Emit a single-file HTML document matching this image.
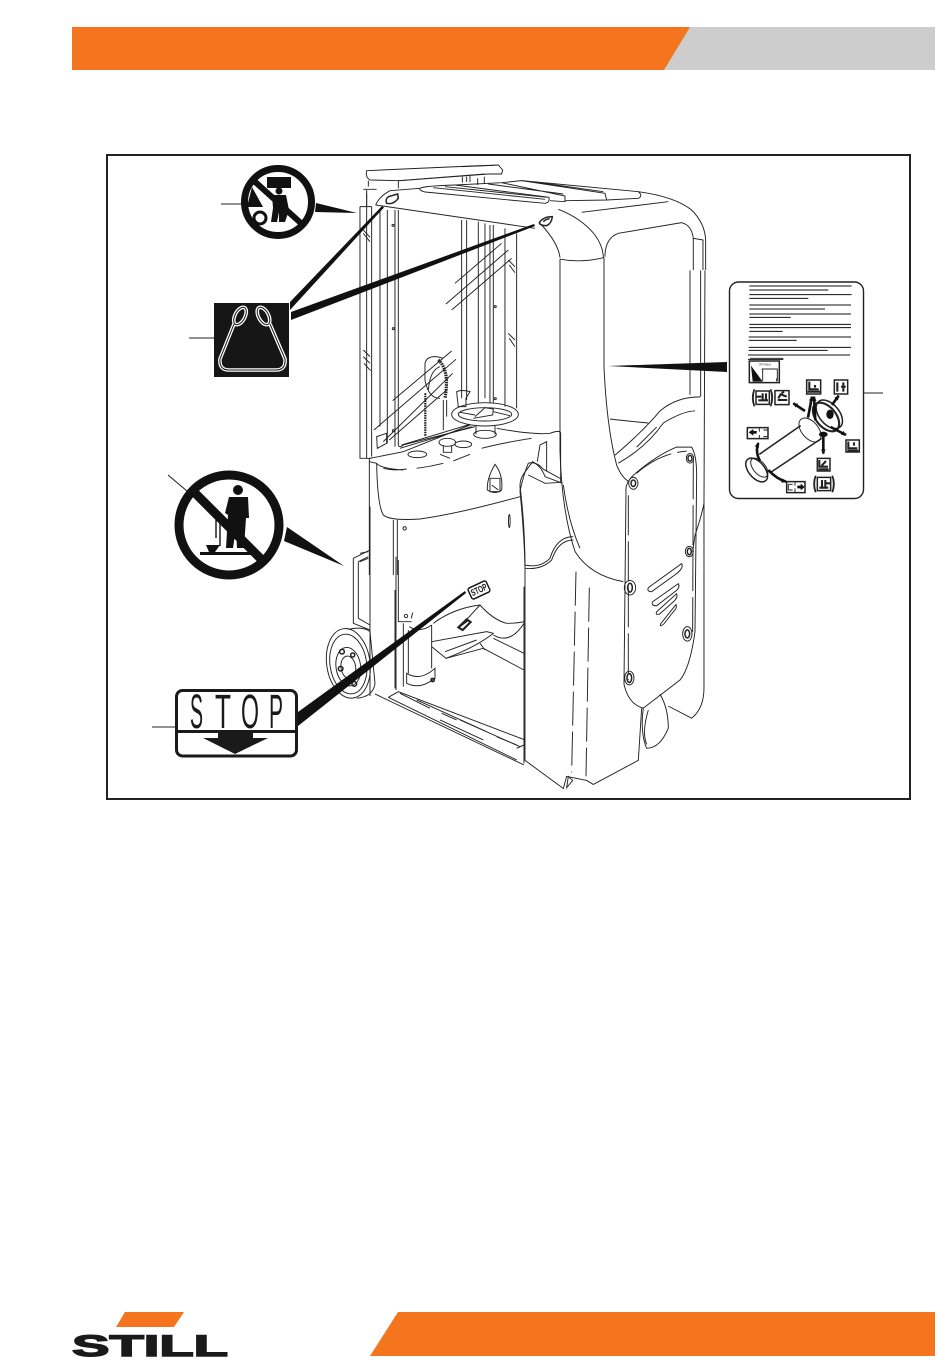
<!DOCTYPE html>
<html><head><meta charset="utf-8"><style>
html,body{margin:0;padding:0;background:#fff;width:950px;height:1368px;overflow:hidden}
svg{display:block}
.l path,.l ellipse,.l circle,.l rect,.l line{fill:none;stroke:#222;stroke-width:.95;vector-effect:non-scaling-stroke}
.l .b{stroke-width:1.5}
.l .w{stroke-width:2.1}
.l .a{stroke:#111;stroke-width:2.6}
.l .k{fill:#111;stroke:none}
.t{font-family:"Liberation Sans",sans-serif;fill:#1a1a1a}
</style></head><body>
<svg width="950" height="1368" viewBox="0 0 950 1368" xmlns="http://www.w3.org/2000/svg">
<defs><marker id="ah" markerUnits="userSpaceOnUse" markerWidth="20" markerHeight="20" refX="13" refY="10" orient="auto"><path d="M0,3 L15,10 L0,17Z" fill="#111"/></marker></defs>
<rect width="950" height="1368" fill="#fff"/>
<!-- header -->
<polygon points="72,27 935,27 935,70 72,70" fill="#cdcdcd"/>
<polygon points="72,27 690,27 664,70 72,70" fill="#f5741e"/>
<!-- footer -->
<polygon points="398,1312 935,1312 935,1356 370,1356" fill="#f5741e"/>
<polygon points="125,1312 184,1312 174,1327 116,1327" fill="#f5741e"/>
<text class="t" x="72" y="1356" font-size="30" font-weight="700" stroke="#1a1a1a" stroke-width="1.4" textLength="156" lengthAdjust="spacingAndGlyphs">STILL</text>
<!-- frame -->
<rect x="107" y="155" width="803" height="644" fill="#fff" stroke="#222" stroke-width="2"/>

<!-- roof -->
<g class="l" transform="translate(355,160) scale(.3333)">
<path d="M35,32 L350,18 L430,15 L443,30 L440,42 L400,42 L135,62 L45,60 Q30,50 35,32Z"/>
<path d="M130,62 L390,42M320,20 L420,16M130,62V85M368,55V75M388,50V72M40,62V80M25,88H65M35,90V140M322,50V68M335,50V66M345,48V66"/>
<path d="M62,135 Q72,110 105,92 L195,85 Q205,78 300,75 L440,68 L500,62 L850,95 Q960,110 1010,150 Q1050,190 1052,240"/>
<path d="M195,85 Q192,92 210,96 L570,130 Q585,128 582,112 L300,75"/>
<path d="M235,83 L570,118M270,80 L575,112M440,68 L630,108 L630,125 L585,122M400,72 L625,102"/>
<path d="M500,62 L750,100 L755,120 L630,122M540,66 L745,95M850,95 Q865,108 850,115 L755,120"/>
<path d="M680,157 L940,125"/>
<path d="M62,135 L540,205"/>
<path d="M610,148 Q680,175 720,225 Q745,260 745,293"/>
<path d="M560,195 Q610,250 615,293"/>
<path d="M750,290 Q750,235 790,220 L980,188 Q1010,195 1015,235 L1045,240"/>
<path d="M1015,235 V330M1044,240 V330M1052,240 V330"/>
<path d="M100,110 L128,102 L130,115 Q115,135 95,130 Q90,118 100,110Z" class="b"/>
<path d="M553,188 Q565,170 592,170 Q590,190 575,197 Q555,197 553,188Z M565,185 Q572,178 584,176" class="b"/>
</g>

<!-- masts -->
<g class="l" transform="translate(150,150) scale(.3333)">
<path d="M630,170 V925 H665 M630,170 H665 M650,130 V925 M665,170 V920 M690,180 V830 M712,180 V880 M735,180 V890 M745,180 V885"/>
<path d="M745,885 Q748,895 760,885 L975,830"/>
<path d="M935,210 V745 M950,210 V750 M985,215 V760 M1005,220 V745 M1020,225 V760 M1030,225 V760 M1065,235 V770 M1100,250 V775"/>
<path d="M915,400 L1055,280M888,462 L1075,300M905,480 L1085,325M1075,330 L1095,350M1078,345 L1095,368M1075,550 L1095,570M1078,565 L1095,590M640,240 L660,262M640,250 L660,275M640,600 L660,620M640,620 L660,640M642,640 L662,662"/>
<circle cx="729" cy="226" r="3"/><circle cx="730" cy="536" r="3"/><circle cx="730" cy="842" r="3"/><circle cx="1036" cy="470" r="3"/><circle cx="1036" cy="746" r="3"/>
<path d="M825,690 V640 Q830,618 860,620 L880,625 M825,690 Q835,745 870,745 M870,650 Q840,660 835,720 M880,750 V840 M890,750 V800"/>
<path d="M728,752 L905,603 M672,840 L918,628 M700,875 L908,670 M718,870 L890,720"/>
<path d="M680,860 L710,850 V880 L682,895Z"/>
<path d="M920,725 Q935,718 960,725 L948,745 L948,770 H925 L922,745Z"/>
<path d="M865,630 Q900,660 885,745" style="stroke-width:3.2;stroke-dasharray:1.6 .8"/>
<path d="M826,730 V860" style="stroke-width:2.2;stroke-dasharray:1.6 .8"/>
</g>

<!-- dashboard -->
<g class="l" transform="translate(360,395) scale(.3333)">
<ellipse cx="375" cy="58" rx="100" ry="35"/><ellipse cx="375" cy="58" rx="80" ry="20"/>
<path d="M345,65 L375,38 L400,42 L398,60 L340,70 M300,52 L345,60 M400,50 L450,62"/>
<path d="M348,90 V118 M405,90 V118"/><ellipse cx="375" cy="118" rx="34" ry="12"/>
<path d="M30,190 L130,170 L330,90 M125,150 L330,88 M120,160 L335,95"/>
<path d="M50,205 Q52,330 70,360 Q90,378 180,372 Q300,355 480,305"/>
<path d="M28,200 L50,205 Q60,220 130,225 M70,220 Q100,228 140,222 M170,220 Q210,215 250,205 M365,160 Q420,145 515,130 M280,198 L330,178 M240,178 L270,190"/>
<path d="M410,100 Q520,120 570,115 Q595,105 602,112"/>
<ellipse cx="262" cy="142" rx="25" ry="12"/><path d="M250,150 V172 H275 V150"/>
<ellipse cx="310" cy="148" rx="25" ry="10"/><ellipse cx="172" cy="178" rx="28" ry="10"/>
<path d="M405,208 Q380,250 382,285 Q405,300 425,285 Q430,240 405,208Z M390,250 H420 V290 H390Z M395,270 L415,285"/>
<path d="M492,235 Q475,260 482,290 Q495,400 495,520"/>
<path d="M492,235 L518,200 Q545,215 555,245 L608,265 M505,240 L555,265 L605,262"/>
<path d="M532,200 L540,150 L560,140 V230 M602,112 V262 M610,270 Q625,380 660,460"/>
<path d="M495,510 Q540,520 570,490 Q590,425 640,425 M495,520 Q545,525 575,495 Q595,435 640,435"/>
<path d="M28,190 V540 M100,375 V540 M112,375 V540 M0,475 L25,470 M0,500 L25,490"/>
<circle cx="134" cy="400" r="5"/><ellipse cx="448" cy="378" rx="2.500" ry="20"/>
</g>

<!-- lower left -->
<g class="l" transform="translate(320,590) scale(.3333)">
<path d="M100,-95 L150,-120 M100,-95 V100 L150,120 M115,-85 L145,-100 M115,-85 V85 L150,105"/>
<path d="M150,-250 V318 M228,-100 V300 M225,0 V295 M235,-90 V95 H275 M250,100 V290"/>
<ellipse cx="85" cy="220" rx="65" ry="105" transform="rotate(-8 85 220)"/>
<ellipse cx="85" cy="222" rx="55" ry="90" transform="rotate(-8 85 222)"/>
<ellipse cx="85" cy="230" rx="37" ry="58" transform="rotate(-8 85 230)"/>
<ellipse cx="85" cy="232" rx="22" ry="34" transform="rotate(-8 85 232)"/>
<path d="M85,118 Q130,108 150,125 M150,125 L165,280 Q160,320 110,325"/>
<circle cx="66" cy="185" r="7" class="b"/><circle cx="98" cy="195" r="6" class="b"/><circle cx="62" cy="236" r="7" class="b"/><circle cx="103" cy="282" r="7" class="b"/>
<path d="M165,312 L612,525 M205,322 L235,305 L615,450 L612,465 L590,475 M205,322 L590,510"/>
<path d="M240,310 L330,355 M365,370 L410,390 M420,390 L600,470 M290,330 L500,425 M360,390 L490,450 M530,440 L590,465" />
<path d="M265,120 V250 M335,105 V235 M268,110 Q300,130 335,105"/>
<path d="M260,250 Q300,275 345,235 V265 Q300,300 260,280Z"/>
<circle cx="338" cy="270" r="5" class="b"/>
<circle cx="258" cy="78" r="5"/><path d="M278,68 L274,85"/>
<path d="M335,155 L500,125 L520,130 Q470,170 378,205 L335,170 M375,185 L470,150 M480,160 L495,180"/>
<path d="M520,145 L612,190 M490,175 L612,240 M378,205 L490,175"/>
<path d="M340,100 Q400,55 480,45 Q520,90 560,100 Q590,100 612,95 M480,45 L420,110 M520,135 Q570,165 612,100"/>
<path d="M415,112 L440,88 L452,96 L428,120Z M420,108 L444,90" class="w"/>
<path d="M612,-10 V520"/>
</g>

<!-- right body -->
<g class="l" transform="translate(500,170) scale(.3333,.4016)">
<path d="M180,222 V700 Q185,850 225,950 Q270,1010 370,1025"/>
<path d="M180,222 Q245,232 312,218"/>
<path d="M312,218 V490 Q320,640 350,735 Q365,765 385,775"/>
<path d="M570,250 V560 M602,250 V565 M615,250 L612,830 Q605,860 585,910 L578,950 M612,830 V1290 Q612,1340 575,1365 L505,1335"/>
<path d="M345,710 Q430,650 480,600 Q530,565 600,565 M355,730 Q440,690 490,630 Q550,600 585,600"/>
<path d="M410,690 L470,640"/>
<path d="M378,800 Q375,780 400,760 Q470,710 530,690 L575,690 Q590,710 590,760 L585,1150 Q570,1240 540,1270 L430,1340 Q385,1330 372,1280Z"/>
<path d="M385,810 V1270 M410,755 Q480,705 560,700 M580,720 L578,1150" style="stroke-dasharray:40 6"/>
<path d="M430,1340 Q420,1400 440,1440 Q480,1440 505,1390 Q505,1340 480,1305 M445,1345 Q425,1400 440,1430"/>
<path d="M75,985 V1470 L190,1540 L200,1510 L260,1520 L280,1530 L415,1470 L425,1340"/>
<path d="M75,985 Q72,900 60,800 Q70,760 85,730 Q110,725 130,745 L185,770 M330,620 Q380,625 445,630"/>
<path d="M228,1000 L215,1500 M268,1040 L258,1510" style="stroke-dasharray:34 6"/>
<path d="M445,1040 L545,980 Q552,990 530,1005 L455,1050 Q440,1050 445,1040Z"/>
<path d="M458,1075 L535,1030 Q542,1040 525,1050 L470,1085 Q452,1085 458,1075Z"/>
<path d="M470,1100 L530,1055 Q535,1065 520,1075 L480,1105 Q465,1110 470,1100Z"/>
<path d="M482,1130 L528,1082 Q533,1090 520,1100 L492,1130 Q478,1140 482,1130Z"/>
<ellipse cx="400" cy="780" rx="14" ry="15"/><ellipse cx="400" cy="780" rx="7" ry="8" class="b"/>
<ellipse cx="570" cy="718" rx="11" ry="12"/><ellipse cx="570" cy="718" rx="6" ry="7" class="b"/>
<ellipse cx="568" cy="950" rx="12" ry="13"/><ellipse cx="568" cy="950" rx="6" ry="8" class="b"/>
<ellipse cx="562" cy="1155" rx="14" ry="18"/><ellipse cx="562" cy="1155" rx="7" ry="10" class="b"/>
<ellipse cx="390" cy="1040" rx="17" ry="18"/><ellipse cx="390" cy="1040" rx="7" ry="11" class="b"/>
<ellipse cx="388" cy="1265" rx="14" ry="17"/><ellipse cx="388" cy="1265" rx="7" ry="11" class="b"/>
<path d="M205,1510 L200,1538 L218,1520Z"/>
</g>

<!-- wedges -->
<polygon points="290,302 290,310 384,207.500 382,206" fill="#111"/>
<polygon points="291,312 291,320 535,226 534,224" fill="#111"/>
<polygon points="316,203 315,212 357,213" fill="#111"/>
<polygon points="287,527 284,541 344,566" fill="#111"/>
<polygon points="298,712 298,726 466,593 465,591" fill="#111"/>
<polygon points="608,366 727,362 727,372" fill="#111"/>

<!-- sign 1 -->
<path d="M221,204 H243" stroke="#222" stroke-width="1"/>
<circle cx="278" cy="202" r="33.500" fill="#fff" stroke="#111" stroke-width="7"/>
<rect x="267" y="177" width="24" height="11" fill="#111"/>
<path d="M252,187 L263,207 H247Z" fill="#111"/>
<circle cx="260" cy="218" r="6" fill="none" stroke="#111" stroke-width="3"/>
<circle cx="279" cy="191" r="3.500" fill="#111"/>
<path d="M272,195 H286 L289,210 L285,222 H279 V212 L277,222 H271 L273,208Z" fill="#111"/>
<path d="M253,180 L303,225" stroke="#111" stroke-width="6"/>

<!-- sling sign -->
<path d="M189,338 H214" stroke="#222" stroke-width="1"/>
<rect x="214" y="303" width="75" height="74" fill="#161616"/>
<g fill="none" stroke="#fff" stroke-width="3.600" stroke-linejoin="round">
<ellipse cx="240" cy="316" rx="5" ry="9.500" transform="rotate(28 240 316)"/>
<ellipse cx="263.500" cy="316" rx="5" ry="9.500" transform="rotate(-28 263.500 316)"/>
<path d="M234,324 L220,359 Q219,370 229,370 H276 Q286,370 285,359 L270,324"/>
</g>
<g fill="none" stroke="#161616" stroke-width="1">
<ellipse cx="240" cy="316" rx="5" ry="9.500" transform="rotate(28 240 316)"/>
<ellipse cx="263.500" cy="316" rx="5" ry="9.500" transform="rotate(-28 263.500 316)"/>
<path d="M234,324 L220,359 Q219,370 229,370 H276 Q286,370 285,359 L270,324"/>
</g>

<!-- sign 2 -->
<path d="M168,475 L187,491" stroke="#222" stroke-width="1"/>
<circle cx="229" cy="525" r="50" fill="#fff" stroke="#111" stroke-width="9"/>
<circle cx="238" cy="490" r="5" fill="#111"/>
<path d="M229,497 H248 L249,518 H246 L244,548 H237 L236,528 L233,548 H226 L228,515 L225,513Z" fill="#111"/>
<path d="M220,520 V546 M216,520 V538" stroke="#111" stroke-width="1.400"/>
<path d="M206,545 H220 L215,552 H209Z" fill="#111"/>
<rect x="200" y="552" width="52" height="3" fill="#111"/>
<path d="M195,493 L264,562" stroke="#111" stroke-width="9"/>

<!-- stop sign -->
<path d="M152,727 H176" stroke="#222" stroke-width="1"/>
<rect x="176.500" y="690.500" width="120" height="65.500" rx="6" fill="#fff" stroke="#1a1a1a" stroke-width="3"/>
<rect x="176" y="730" width="121" height="3" fill="#1a1a1a"/>
<text class="t" x="190" y="728" font-size="48" textLength="13" lengthAdjust="spacingAndGlyphs">S</text>
<text class="t" x="215" y="728" font-size="48" textLength="16" lengthAdjust="spacingAndGlyphs">T</text>
<text class="t" x="241" y="728" font-size="48" textLength="18" lengthAdjust="spacingAndGlyphs">O</text>
<text class="t" x="269" y="728" font-size="48" textLength="14" lengthAdjust="spacingAndGlyphs">P</text>
<polygon points="218,731 253,731 253,738 268,738 235,754 203,738 218,738" fill="#1a1a1a"/>

<!-- tiny stop tag -->
<g transform="translate(479,590) rotate(-25)">
<rect x="-10" y="-6" width="20" height="12" rx="2" fill="#fff" stroke="#111" stroke-width="1.400"/>
<text class="t" x="-8.500" y="3" font-size="9.500" font-weight="700" textLength="17" lengthAdjust="spacingAndGlyphs">STOP</text>
</g>

<!-- label -->
<path d="M863,393 H883" stroke="#222" stroke-width="1"/>
<rect x="729.500" y="282" width="134" height="216.500" rx="9" fill="#fff" stroke="#222" stroke-width="1.400"/>
<g stroke="#111" stroke-width="1" transform="translate(720,275) scale(.3333)" fill="none">
<path vector-effect="non-scaling-stroke" d="M88,33H395M88,45H325M88,59H395M88,70H265M88,90H393M88,102H315M88,117H393M88,127H212M88,148H393M88,158H393M88,169H188M86,186H393M86,196H230M86,217H393M86,226H323M84,240H390M84,253H190"/>
</g>
<g class="l" transform="translate(740,355) scale(.3333)">
<rect x="28" y="18" width="90" height="65" class="b"/>
<path class="k" d="M33,32 L68,80 L38,80Z"/>
<path d="M65,42 H112 V78 M68,42 V78 M110,70 V80 M30,10 H130"/>
<text x="56" y="32" font-family="Liberation Sans,sans-serif" font-size="7.500" fill="#222">OPTIONAL</text>
<rect x="48" y="108" width="40" height="40" class="b"/>
<path class="w" d="M55,136 H84 M68,115 V136 M78,115 V136 M50,125 H64"/>
<path d="M42,103 Q32,128 42,154 M93,103 Q103,128 93,154 M44,103 Q36,128 44,154 M91,103 Q99,128 91,154"/>
<rect x="105" y="107" width="42" height="42" class="b"/>
<path class="w" d="M113,135 H142 M115,130 L122,118 L140,125 M125,115 L132,110"/>
<rect x="200" y="75" width="42" height="42" class="b"/>
<path class="w" d="M208,80 V103 H236 M203,110 H240 M225,90 V98"/>
<rect x="283" y="75" width="40" height="42" class="b"/>
<path class="w" d="M292,82 V110 M310,82 V110 M303,95 H317"/>
<rect x="318" y="255" width="40" height="36" class="b"/>
<path class="w" d="M325,260 V280 H352 M322,287 H355 M342,262 V272"/>
<rect x="232" y="310" width="38" height="38" class="b"/>
<path class="w" d="M238,315 V335 H264 M235,343 H266 M245,332 L258,318"/>
<rect x="232" y="367" width="40" height="40" class="b"/>
<path class="w" d="M238,398 H265 M246,375 V398 M256,375 V398 M258,385 H270"/>
<path d="M226,362 Q216,387 226,412 M278,362 Q288,387 278,412 M228,362 Q220,387 228,412 M276,362 Q284,387 276,412"/>
<rect x="140" y="380" width="55" height="33" class="b"/>
<path d="M165,380 V392 M165,400 V413 M145,388 H158 M145,405 H158 M145,388 V405"/>
<path class="k" d="M172,392 H182 V386 L194,396 L182,406 V400 H172Z"/>
<rect x="22" y="218" width="62" height="33" class="b"/>
<path d="M58,218 V230 M58,240 V251 M70,225 H84 M70,245 H84 M84,225 V245"/>
<path class="k" d="M50,228 H40 V222 L26,232 L40,242 V236 H50Z"/>
<path class="b" d="M58,298 L182,212 M92,352 L245,250"/>
<ellipse cx="50" cy="345" rx="24" ry="42" transform="rotate(-40 50 345)" class="b"/>
<ellipse cx="58" cy="338" rx="18" ry="34" transform="rotate(-40 58 338)"/>
<ellipse cx="268" cy="178" rx="30" ry="50" transform="rotate(-40 268 178)" class="b"/>
<ellipse cx="258" cy="186" rx="30" ry="50" transform="rotate(-40 258 186)" class="w"/>
<ellipse cx="270" cy="178" rx="11" ry="14" class="k"/>
<ellipse cx="210" cy="225" rx="25" ry="42" transform="rotate(-40 210 225)"/>
<ellipse cx="250" cy="238" rx="13" ry="8" class="k"/>
<path class="a" d="M195,168 L160,145" marker-end="url(#ah)"/>
<path class="a" d="M204,188 L216,125" marker-end="url(#ah)"/>
<path class="a" d="M226,196 L222,125" marker-end="url(#ah)"/>
<path class="a" d="M276,150 L296,122" marker-end="url(#ah)"/>
<path class="a" d="M272,216 L318,240" marker-end="url(#ah)"/>
<path class="a" d="M250,245 V296" marker-end="url(#ah)"/>
<path class="a" d="M60,318 Q45,290 55,264" marker-end="url(#ah)"/>
<path class="a" d="M85,345 Q110,372 138,380" marker-end="url(#ah)"/>
</g>
</svg>
</body></html>
